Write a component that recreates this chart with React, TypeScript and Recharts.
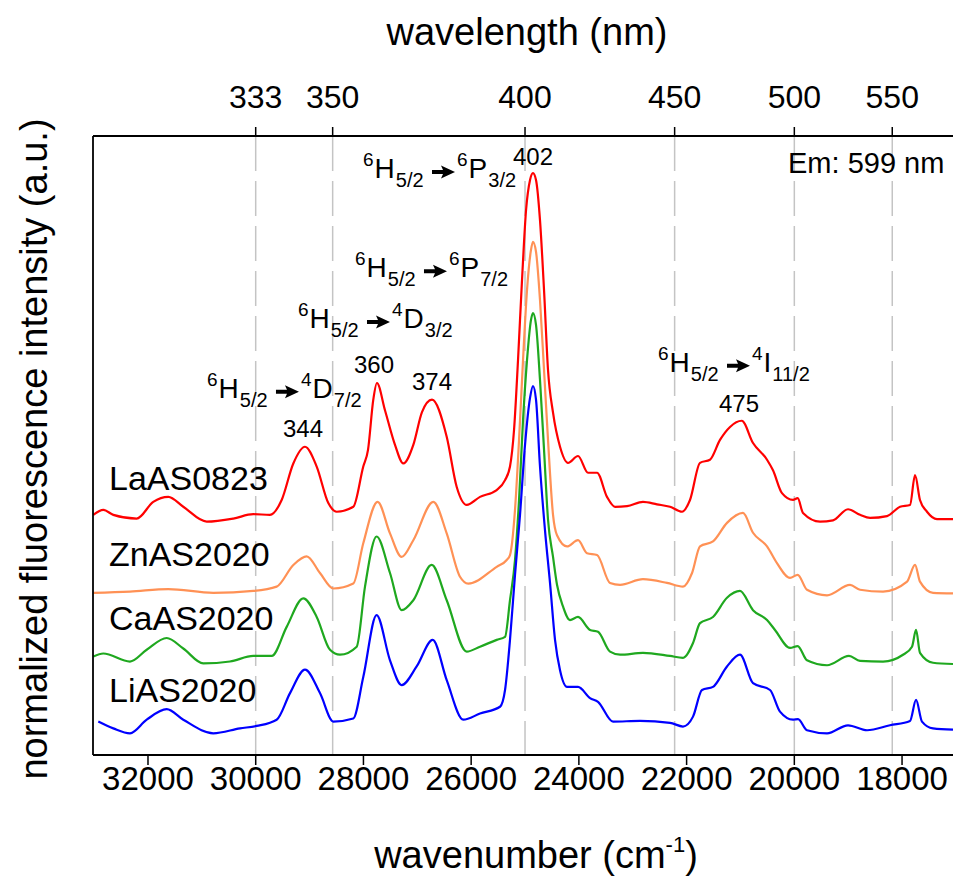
import React from 'react';
import { LineChart, Line, XAxis, YAxis, ReferenceLine, ReferenceDot } from 'recharts';

// wavenumber (cm-1) ticks on the bottom, wavelength (nm) ticks on the top
const wavenumberTicks = [32000, 30000, 28000, 26000, 24000, 22000, 20000, 18000];
const wavelengthTicks = [333.33, 350, 400, 450, 500, 550];

// spectra as [wavenumber, offset intensity] pairs
const laAS0823: [number, number][] = [
  [33016, 38.8], [32830, 39.6], [32644, 38.8], [32210, 38.2], [31902, 40.9], [31623, 41.7],
  [31345, 40.1], [30910, 37.7], [30416, 38.2], [30045, 38.9], [29735, 38.8], [29518, 41.2],
  [29302, 47.1], [29085, 49.8], [28868, 46.6], [28652, 40.7], [28496, 39.3], [28188, 40.1],
  [28003, 46.6], [27915, 49.3], [27817, 57.4], [27750, 60.1], [27600, 55.7], [27414, 50.1],
  [27260, 47.1], [27074, 50.1], [26913, 55.4], [26727, 57.4], [26454, 51.4], [26268, 43.3],
  [26083, 40.4], [25836, 41.7], [25526, 42.8], [25371, 44.4], [25279, 46.6], [25204, 52.5],
  [25130, 63.8], [25056, 76.7], [24981, 88.0], [24907, 92.9], [24852, 94.0], [24796, 92.9],
  [24722, 86.4], [24647, 75.1], [24573, 62.2], [24480, 55.3], [24350, 49.8], [24202, 47.2],
  [24016, 48.3], [23830, 45.6], [23663, 45.6], [23478, 41.7], [23329, 40.1], [23106, 40.2],
  [22810, 40.9], [22550, 40.5], [22308, 40.1], [22085, 39.3], [21937, 41.2], [21751, 47.2],
  [21566, 47.7], [21380, 50.9], [21194, 53.0], [20977, 54.0], [20767, 50.4], [20507, 47.7],
  [20396, 46.0], [20229, 42.3], [20024, 41.2], [19937, 41.5], [19839, 39.1], [19523, 37.7],
  [19282, 37.9], [19003, 39.7], [18780, 38.8], [18594, 38.3], [18279, 38.6], [18037, 40.1],
  [17852, 40.4], [17759, 45.2], [17667, 41.2], [17537, 39.3], [17351, 38.1], [17054, 38.1],
];

const znAS2020: [number, number][] = [
  [33016, 26.2], [32334, 26.4], [31623, 26.8], [30788, 26.2], [30045, 26.5], [29611, 27.2],
  [29302, 30.7], [29054, 32.1], [28807, 29.4], [28559, 26.9], [28188, 27.7], [28003, 34.2],
  [27737, 40.9], [27507, 35.8], [27290, 32.0], [27074, 34.7], [26703, 40.9], [26454, 35.8],
  [26207, 28.8], [26054, 27.7], [25526, 30.4], [25340, 31.5], [25279, 32.3], [25186, 39.6],
  [25111, 50.9], [25037, 63.8], [24963, 75.1], [24889, 81.6], [24852, 82.9], [24796, 81.3],
  [24722, 73.5], [24647, 62.2], [24573, 50.9], [24480, 38.8], [24406, 35.5], [24220, 33.7],
  [24016, 34.7], [23849, 32.6], [23663, 32.3], [23422, 27.8], [23236, 27.5], [22810, 28.4],
  [22364, 27.8], [22067, 27.2], [21899, 29.4], [21751, 33.7], [21510, 34.5], [21250, 37.5],
  [20953, 39.1], [20767, 35.9], [20507, 33.7], [20322, 31.0], [20080, 28.6], [19937, 29.1],
  [19765, 26.7], [19393, 25.8], [18966, 27.5], [18780, 26.7], [18353, 26.4], [17907, 28.0],
  [17759, 30.7], [17667, 28.0], [17425, 26.2], [17054, 26.1],
];

const caAS2020: [number, number][] = [
  [33016, 15.9], [32830, 16.4], [32334, 15.1], [32024, 17.0], [31653, 18.9], [31345, 17.2],
  [30973, 14.8], [30478, 15.1], [30045, 16.0], [29703, 16.0], [29425, 20.7], [29117, 25.3],
  [28868, 22.3], [28621, 17.0], [28435, 16.2], [28125, 17.5], [27971, 27.2], [27756, 35.3],
  [27507, 29.4], [27290, 23.4], [27074, 25.0], [26733, 30.7], [26454, 25.0], [26083, 16.7],
  [25836, 17.5], [25526, 18.6], [25371, 19.1], [25279, 25.0], [25186, 31.5], [25111, 41.2],
  [25037, 54.1], [24963, 63.8], [24889, 70.3], [24852, 71.4], [24796, 69.5], [24722, 60.6],
  [24647, 49.3], [24573, 38.0], [24480, 32.0], [24406, 27.5], [24295, 24.0], [24165, 21.8],
  [24016, 22.3], [23793, 20.2], [23645, 19.9], [23422, 16.7], [23236, 16.2], [22810, 16.5],
  [22308, 16.0], [22067, 15.7], [21881, 18.1], [21751, 21.3], [21510, 22.3], [21250, 25.4],
  [21009, 26.5], [20767, 23.4], [20507, 21.8], [20359, 20.2], [20080, 17.3], [19937, 17.6],
  [19765, 15.3], [19393, 14.5], [18985, 16.0], [18780, 15.2], [18353, 15.1], [17982, 16.2],
  [17815, 17.5], [17740, 20.2], [17667, 16.5], [17425, 14.9], [17054, 14.7],
];

const liAS2020: [number, number][] = [
  [32923, 5.4], [32644, 4.3], [32334, 3.5], [32024, 5.7], [31653, 7.4], [31345, 5.7],
  [30788, 3.5], [30292, 4.3], [29982, 4.7], [29611, 5.7], [29363, 10.0], [29085, 13.8],
  [28807, 10.0], [28559, 5.4], [28188, 5.9], [28003, 12.6], [27756, 22.6], [27507, 15.3],
  [27290, 11.3], [27012, 14.3], [26714, 18.6], [26454, 12.1], [26146, 5.7], [25836, 6.7],
  [25464, 7.8], [25371, 10.5], [25279, 18.6], [25186, 29.1], [25093, 38.8], [25000, 50.1],
  [24907, 57.7], [24852, 59.6], [24796, 57.4], [24722, 46.6], [24629, 36.3], [24536, 27.8],
  [24443, 18.6], [24350, 13.7], [24220, 11.0], [24016, 11.0], [23793, 9.2], [23645, 8.6],
  [23366, 5.4], [22865, 5.5], [22308, 5.2], [22067, 4.6], [21881, 6.2], [21714, 10.5],
  [21510, 11.0], [21250, 14.3], [21009, 16.2], [20767, 11.6], [20451, 10.5], [20266, 7.0],
  [20024, 5.7], [19931, 5.8], [19765, 4.0], [19393, 3.5], [19003, 4.8], [18650, 4.0],
  [18223, 4.8], [17852, 5.5], [17740, 8.9], [17630, 5.4], [17425, 4.3], [17054, 4.1],
];

const seriesNames = ['LaAS0823', 'ZnAS2020', 'CaAS2020', 'LiAS2020'];
const seriesColors = ['#ff0000', '#ff9155', '#1fa81f', '#0000ff'];
const seriesValues = [laAS0823, znAS2020, caAS2020, liAS2020];
// where each sample name sits: [wavenumber, intensity] of its left baseline
const seriesLabelAt: [number, number][] = [[32724, 42.8], [32724, 30.5], [32724, 20.2], [32724, 8.6]];

// transitions from 6H5/2: superscript, term, subscript of the end state
const transitions = [
  { at: [28008, 93.2], to: ['6', 'P', '3/2'] },
  { at: [28157, 77.2], to: ['6', 'P', '7/2'] },
  { at: [29215, 69.0], to: ['4', 'D', '3/2'] },
  { at: [30905, 57.7], to: ['4', 'D', '7/2'] },
  { at: [22531, 61.9], to: ['4', 'I', '11/2'] },
];
const peakLabels = ['402', '360', '374', '344', '475'];
const peakLabelAt: [number, number][] = [[24852, 95.3], [27804, 61.7], [26727, 59.0], [29122, 51.4], [21027, 55.4]];

const FONT = '"Liberation Sans", Arial, Helvetica, sans-serif';
const DOMAIN: [number, number] = [17054, 33021];

const toPoints = (pairs: [number, number][]) => pairs.map(([wn, v]) => ({ wn, v }));

const Term = ({ x, sup, main, sub }: { x: number; sup: string; main: string; sub: string }) => (
  <text x={x} y={0} fontFamily={FONT} fill="#000">
    <tspan fontSize={19} dy={-12}>{sup}</tspan>
    <tspan fontSize={28} dy={12} dx={1}>{main}</tspan>
    <tspan fontSize={20} dy={9} dx={1}>{sub}</tspan>
  </text>
);

const Transition = ({ cx, cy, to }: any) => (
  <g transform={`translate(${cx},${cy})`}>
    <Term x={0} sup="6" main="H" sub="5/2" />
    <path d="M69,-8 L80,-8 L78,-12.5 L92,-6 L78,0.5 L80,-4 L69,-4 Z" fill="#000" />
    <Term x={94} sup={to[0]} main={to[1]} sub={to[2]} />
  </g>
);

export default function App() {
  return (
    <div style={{ position: 'relative', width: 953, height: 890, background: '#fff' }}>
      <style>{'body{margin:0}'}</style>
      <LineChart width={953} height={890} margin={{ top: 76, right: 0, bottom: 0, left: 92 }}>
        <XAxis
          xAxisId="top"
          orientation="top"
          type="number"
          dataKey="wn"
          domain={DOMAIN}
          reversed
          allowDataOverflow
          height={60}
          ticks={wavelengthTicks.map((nm) => 1e7 / nm)}
          interval={0}
          tickFormatter={(v: number) => String(Math.round(1e7 / v))}
          tickSize={9}
          tickMargin={19}
          tick={{ fontSize: 32, fill: '#000', fontFamily: FONT }}
          tickLine={{ stroke: '#000', strokeWidth: 1.5 }}
          axisLine={{ stroke: '#000', strokeWidth: 1.8 }}
        />
        <XAxis
          xAxisId="bottom"
          orientation="bottom"
          type="number"
          dataKey="wn"
          domain={DOMAIN}
          reversed
          allowDataOverflow
          height={135}
          ticks={wavenumberTicks}
          interval={0}
          tickSize={10}
          tickMargin={2}
          tick={{ fontSize: 33, fill: '#000', fontFamily: FONT }}
          tickLine={{ stroke: '#000', strokeWidth: 1.5 }}
          axisLine={{ stroke: '#000', strokeWidth: 1.8 }}
        />
        <YAxis
          type="number"
          domain={[0, 100]}
          width={1}
          tick={false}
          tickLine={false}
          axisLine={{ stroke: '#000', strokeWidth: 1.8 }}
        />
        {wavelengthTicks.map((nm) => (
          <ReferenceLine
            key={nm}
            xAxisId="top"
            x={1e7 / nm}
            stroke="#c4c4c4"
            strokeWidth={1.5}
            strokeDasharray="35 10"
          />
        ))}
        {seriesValues.map((vals, i) => (
          <Line
            key={seriesNames[i]}
            xAxisId="bottom"
            data={toPoints(vals)}
            dataKey="v"
            name={seriesNames[i]}
            type="monotone"
            stroke={seriesColors[i]}
            strokeWidth={2.2}
            dot={false}
            isAnimationActive={false}
          />
        ))}
        {seriesNames.map((name, i) => (
          <ReferenceDot
            key={name}
            xAxisId="bottom"
            x={seriesLabelAt[i][0]}
            y={seriesLabelAt[i][1]}
            r={0}
            shape={(p: any) => (
              <text x={p.cx} y={p.cy} fontSize={34} fontFamily={FONT} fill="#000">{name}</text>
            )}
          />
        ))}
        {transitions.map((t, i) => (
          <ReferenceDot
            key={i}
            xAxisId="bottom"
            x={t.at[0]}
            y={t.at[1]}
            r={0}
            shape={(p: any) => <Transition cx={p.cx} cy={p.cy} to={t.to} />}
          />
        ))}
        {peakLabels.map((txt, i) => (
          <ReferenceDot
            key={txt}
            xAxisId="bottom"
            x={peakLabelAt[i][0]}
            y={peakLabelAt[i][1]}
            r={0}
            shape={(p: any) => (
              <text x={p.cx} y={p.cy} fontSize={24} fontFamily={FONT} fill="#000" textAnchor="middle">{txt}</text>
            )}
          />
        ))}
        <ReferenceDot
          xAxisId="bottom"
          x={20117}
          y={94.0}
          r={0}
          shape={(p: any) => (
            <text x={p.cx} y={p.cy} fontSize={29} fontFamily={FONT} fill="#000">Em: 599 nm</text>
          )}
        />
      </LineChart>
      <svg width={953} height={890} style={{ position: 'absolute', left: 0, top: 0, pointerEvents: 'none' }}>
        <text x={527} y={45} fontSize={38} fontFamily={FONT} textAnchor="middle" fill="#000">wavelength (nm)</text>
        <text x={536} y={868} fontSize={38} fontFamily={FONT} textAnchor="middle" fill="#000">
          wavenumber (cm<tspan fontSize={22} dy={-16}>-1</tspan><tspan dy={16}>)</tspan>
        </text>
        <text
          x={47}
          y={449}
          fontSize={38}
          fontFamily={FONT}
          textAnchor="middle"
          fill="#000"
          transform="rotate(-90 47 449)"
        >
          normalized fluorescence intensity (a.u.)
        </text>
      </svg>
    </div>
  );
}
